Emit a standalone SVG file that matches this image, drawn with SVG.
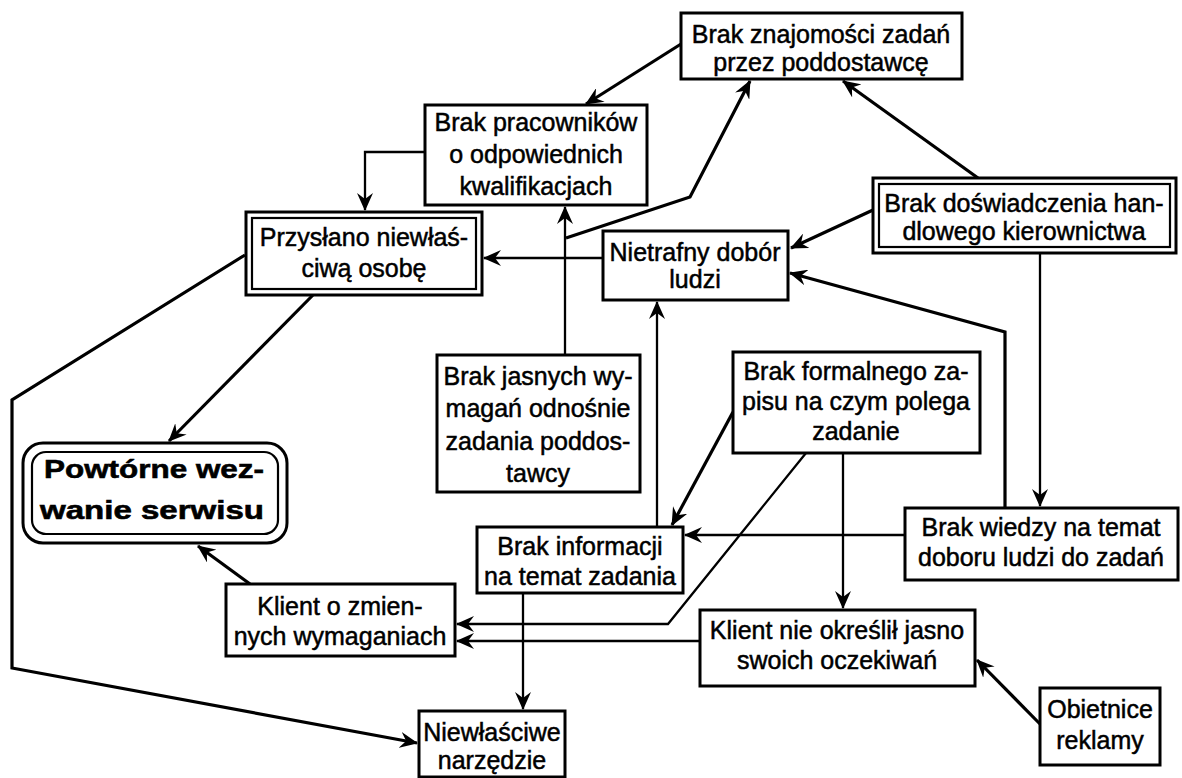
<svg xmlns="http://www.w3.org/2000/svg" width="1182" height="778" viewBox="0 0 1182 778">
<style>
.bg{fill:#fff}
.box{fill:#fff;stroke:#000;stroke-width:3}
.inner{fill:none;stroke:#000;stroke-width:2.2}
.t{font-family:"Liberation Sans",Arial,sans-serif;font-size:25px;fill:#000;stroke:#000;stroke-width:0.5;text-anchor:middle}
.tb{font-family:"Liberation Sans",Arial,sans-serif;font-size:26px;font-weight:bold;fill:#000;stroke:#000;stroke-width:0.6;text-anchor:middle}
.c{fill:none;stroke:#000;stroke-width:3.2;stroke-linejoin:miter}
.c2{fill:none;stroke:#000;stroke-width:2.3}
</style>
<defs>
<marker id="ah" viewBox="0 0 18 16" refX="17" refY="8" markerWidth="18" markerHeight="16" markerUnits="userSpaceOnUse" orient="auto">
<path d="M0,0 L18,8 L0,16 L6,8 Z" fill="#000"/>
</marker>
</defs>
<rect class="bg" x="0" y="0" width="1182" height="778"/>

<g id="connectors">
<path class="c" d="M681,44 L586,104" marker-end="url(#ah)"/>
<path class="c2" d="M424,152 L365,152 L365,210" marker-end="url(#ah)"/>
<path class="c2" d="M565,355 L565,207" marker-end="url(#ah)"/>
<path class="c" d="M566,238 L690,197 L750,81" marker-end="url(#ah)"/>
<path class="c" d="M978,178 L843,81" marker-end="url(#ah)"/>
<path class="c" d="M873,210 L791,248" marker-end="url(#ah)"/>
<path class="c" d="M1005,508 L1005,332 L790,273" marker-end="url(#ah)"/>
<path class="c2" d="M1040,253 L1040,506" marker-end="url(#ah)"/>
<path class="c2" d="M657,527 L657,302" marker-end="url(#ah)"/>
<path class="c2" d="M603,258 L484,258" marker-end="url(#ah)"/>
<path class="c" d="M733,412 L672,525" marker-end="url(#ah)"/>
<path class="c2" d="M806,453 L668,624 L457,624" marker-end="url(#ah)"/>
<path class="c2" d="M700,641 L457,641" marker-end="url(#ah)"/>
<path class="c2" d="M843,453 L843,608" marker-end="url(#ah)"/>
<path class="c2" d="M905,535 L685,535" marker-end="url(#ah)"/>
<path class="c" d="M1040,724 L977,660" marker-end="url(#ah)"/>
<path class="c2" d="M523,593 L523,709" marker-end="url(#ah)"/>
<path class="c" d="M313,295 L169,441" marker-end="url(#ah)"/>
<path class="c" d="M245,255 L12,400 L12,668 L417,743" marker-end="url(#ah)"/>
<path class="c" d="M250,584 L198,546" marker-end="url(#ah)"/>
</g>

<g id="n-brak-znajomosci">
<rect class="box" x="681" y="13" width="281" height="66"/>
<text class="t" x="821" y="43">Brak znajomości zadań</text>
<text class="t" x="821" y="71">przez poddostawcę</text>
</g>

<g id="n-brak-pracownikow">
<rect class="box" x="425" y="105" width="222" height="100"/>
<text class="t" x="536" y="131">Brak pracowników</text>
<text class="t" x="536" y="163">o odpowiednich</text>
<text class="t" x="536" y="195">kwalifikacjach</text>
</g>

<g id="n-przyslano">
<rect class="box" x="246" y="212" width="236" height="83"/>
<rect class="inner" x="252" y="218" width="224" height="71"/>
<text class="t" x="364" y="246">Przysłano niewłaś-</text>
<text class="t" x="364" y="277">ciwą osobę</text>
</g>

<g id="n-nietrafny">
<rect class="box" x="603" y="231" width="185" height="69"/>
<text class="t" x="695" y="261">Nietrafny dobór</text>
<text class="t" x="695" y="288">ludzi</text>
</g>

<g id="n-brak-doswiadczenia">
<rect class="box" x="873" y="178" width="303" height="75"/>
<rect class="inner" x="879" y="184" width="291" height="63"/>
<text class="t" x="1024" y="212">Brak doświadczenia han-</text>
<text class="t" x="1024" y="240">dlowego kierownictwa</text>
</g>

<g id="n-brak-jasnych">
<rect class="box" x="437" y="355" width="203" height="137"/>
<text class="t" x="538" y="385">Brak jasnych wy-</text>
<text class="t" x="538" y="417">magań odnośnie</text>
<text class="t" x="538" y="450">zadania poddos-</text>
<text class="t" x="538" y="482">tawcy</text>
</g>

<g id="n-brak-formalnego">
<rect class="box" x="733" y="352" width="247" height="101"/>
<text class="t" x="856" y="380">Brak formalnego za-</text>
<text class="t" x="856" y="410">pisu na czym polega</text>
<text class="t" x="856" y="440">zadanie</text>
</g>

<g id="n-powtorne">
<rect class="box" x="23" y="443" width="264" height="100" rx="20" ry="20"/>
<rect class="inner" x="32" y="452" width="246" height="82" rx="14" ry="14"/>
<text class="tb" x="154" y="478" textLength="220" lengthAdjust="spacingAndGlyphs">Powtórne wez-</text>
<text class="tb" x="152" y="519" textLength="224" lengthAdjust="spacingAndGlyphs">wanie serwisu</text>
</g>

<g id="n-brak-wiedzy">
<rect class="box" x="905" y="508" width="273" height="72"/>
<text class="t" x="1041" y="536">Brak wiedzy na temat</text>
<text class="t" x="1041" y="566">doboru ludzi do zadań</text>
</g>

<g id="n-brak-informacji">
<rect class="box" x="477" y="527" width="206" height="66"/>
<text class="t" x="580" y="555">Brak informacji</text>
<text class="t" x="580" y="585">na temat zadania</text>
</g>

<g id="n-klient-zmiennych">
<rect class="box" x="226" y="584" width="229" height="72"/>
<text class="t" x="340" y="615">Klient o zmien-</text>
<text class="t" x="340" y="645">nych wymaganiach</text>
</g>

<g id="n-klient-nie-okreslil">
<rect class="box" x="700" y="610" width="275" height="76"/>
<text class="t" x="837" y="639">Klient nie określił jasno</text>
<text class="t" x="837" y="669">swoich oczekiwań</text>
</g>

<g id="n-obietnice">
<rect class="box" x="1040" y="688" width="120" height="77"/>
<text class="t" x="1100" y="718">Obietnice</text>
<text class="t" x="1100" y="749">reklamy</text>
</g>

<g id="n-niewlasciwe">
<rect class="box" x="419" y="711" width="146" height="66"/>
<text class="t" x="492" y="741">Niewłaściwe</text>
<text class="t" x="492" y="769">narzędzie</text>
</g>
</svg>
